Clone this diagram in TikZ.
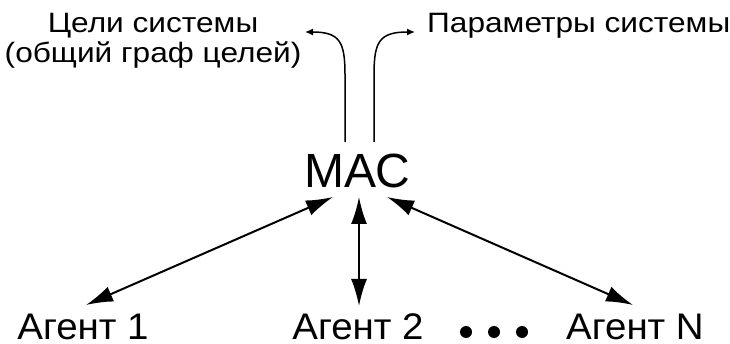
\documentclass[tikz,border=0pt]{standalone}
\usepackage{fontspec}
\setmainfont{Liberation Sans}
\newfontfamily\widefont[FakeStretch=1.13]{Liberation Sans}
\newfontfamily\agentfont[FakeStretch=1.04]{Liberation Sans}
\usetikzlibrary{arrows.meta}
\tikzset{
  toptext/.style={inner sep=0pt, font=\widefont\fontsize{28}{30}\selectfont},
  agenttext/.style={inner sep=0pt, anchor=base, font=\agentfont\fontsize{37}{40}\selectfont},
  mactext/.style={inner sep=0pt, anchor=base, font=\fontsize{48}{50}\selectfont},
  bigarrow/.style={line width=2pt, {Latex[length=27pt,width=16pt]}-{Latex[length=27pt,width=16pt]}},
  smallarrow/.style={line width=1.5pt, -{Latex[length=8pt,width=7pt]}},
  dotnode/.style={circle, fill=black, inner sep=0pt, minimum size=12pt}
}
\begin{document}
\begin{tikzpicture}[x=1pt,y=-1pt]
\useasboundingbox (0,0) rectangle (730,344);
% texts
\node[toptext, anchor=base, align=center] (goals) at (153,63) {Цели системы\\(общий граф целей)};
\node[toptext, anchor=base west] (params) at (427,33) {Параметры системы};
\node[mactext] (mac) at (357,188) {МАС};
\node[agenttext] (ag1) at (83,339) {Агент 1};
\node[agenttext] (ag2) at (358,339) {Агент 2};
\node[agenttext] (agN) at (635,339) {Агент N};
\node[dotnode] (d1) at (466,332) {};
\node[dotnode] (d2) at (494,332) {};
\node[dotnode] (d3) at (522,332) {};
% connector end points
\coordinate (m1) at (333,197);
\coordinate (m2) at (359,197);
\coordinate (m3) at (387,197);
\coordinate (t1) at (86,305);
\coordinate (t2) at (359,306);
\coordinate (t3) at (633,305);
\coordinate (u1) at (345,142);
\coordinate (u2) at (374,142);
\coordinate (g1) at (305,32);
\coordinate (p1) at (415,32);
% arrows
\draw[bigarrow] (t1) -- (m1);
\draw[bigarrow] (t2) -- (m2);
\draw[bigarrow] (t3) -- (m3);
\draw[smallarrow] (u1) -- (345,75) .. controls (345,42) and (340,32) .. (g1);
\draw[smallarrow] (u2) -- (374,75) .. controls (374,42) and (379,32) .. (p1);
\end{tikzpicture}
\end{document}
